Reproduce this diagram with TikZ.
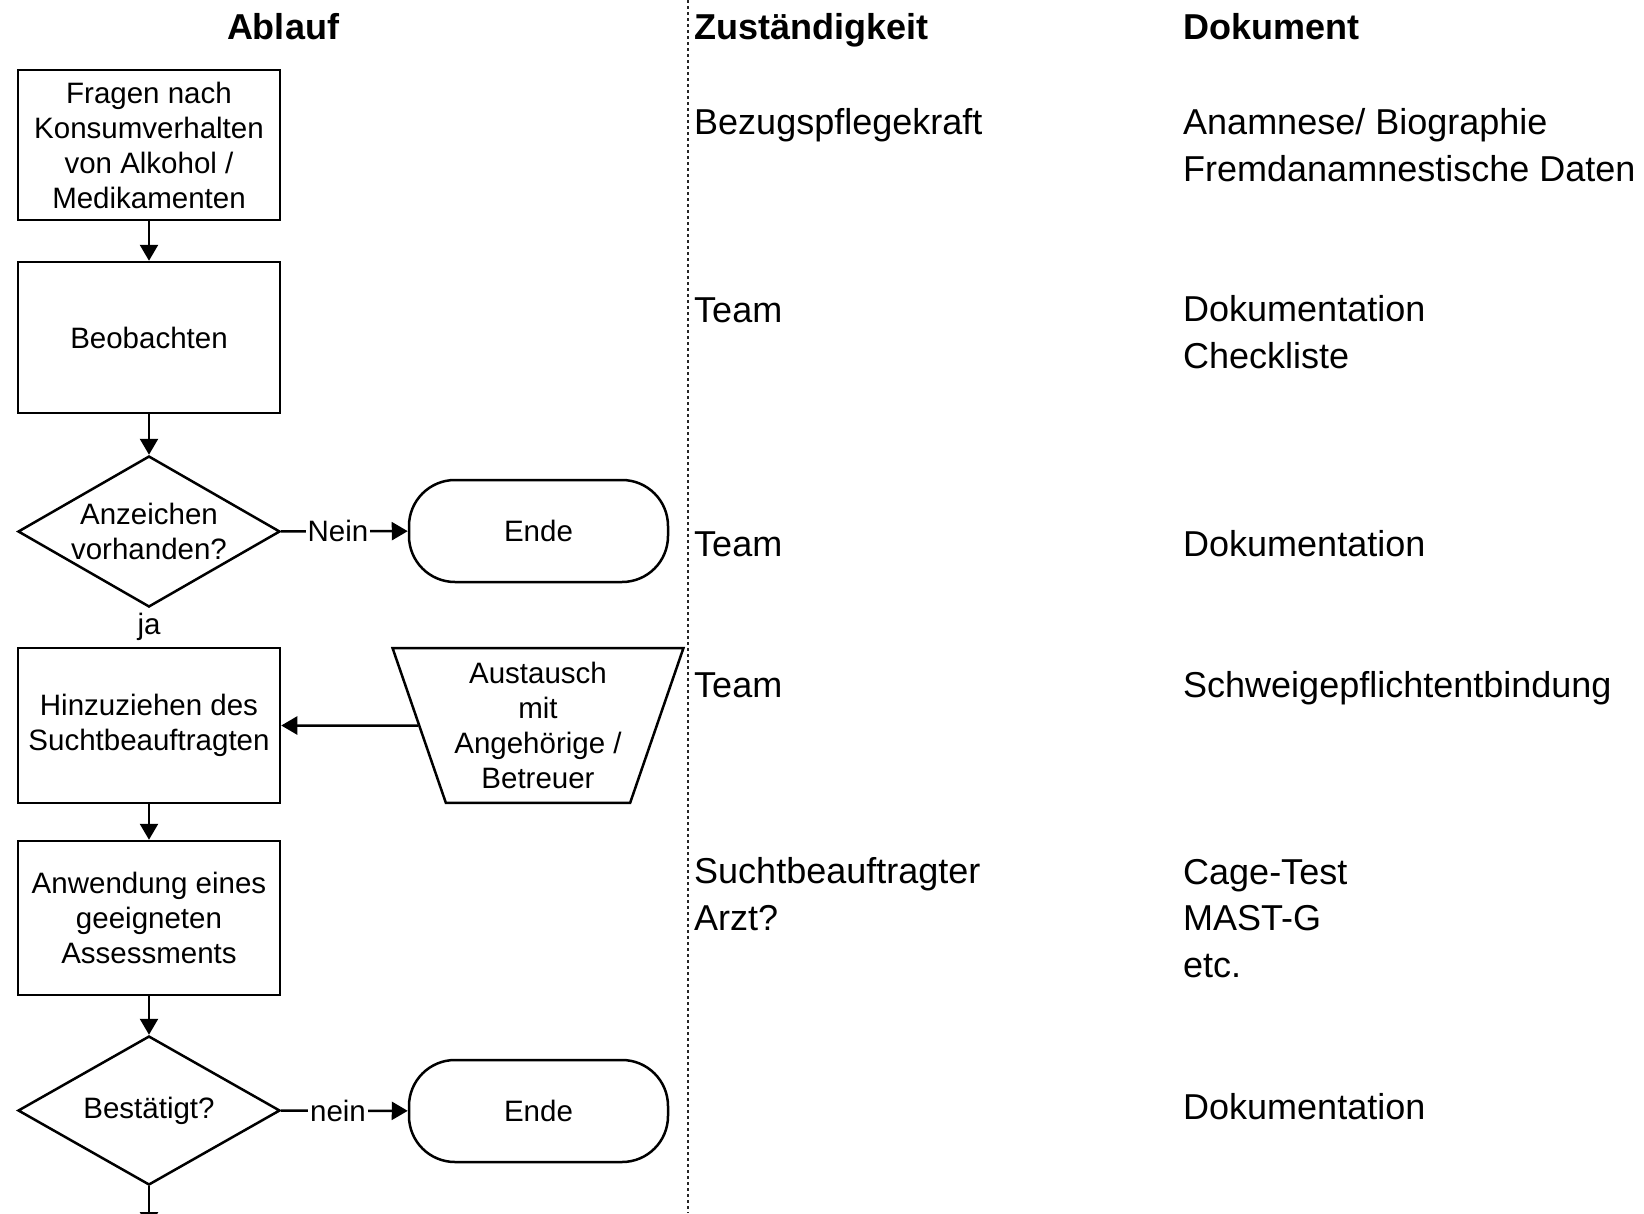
\documentclass[tikz,border=0pt]{standalone}
\usepackage{fontspec}
\setmainfont{Liberation Sans}
\usetikzlibrary{shapes.geometric, shapes.misc, arrows.meta}

\begin{document}
\begin{tikzpicture}[x=1pt, y=-1pt,
  flowbox/.style={draw, line width=2.5pt, rectangle, minimum width=262pt,
    align=center, inner sep=0pt, font=\fontsize{29.5}{35}\selectfont},
  decision/.style={draw, line width=2.5pt, diamond, aspect=1.735,
    minimum width=262pt, minimum height=151pt, inner sep=0pt,
    align=center, font=\fontsize{29.5}{35}\selectfont},
  endbox/.style={draw, line width=2.5pt, rectangle, rounded corners=46pt,
    minimum width=259pt, minimum height=102pt,
    font=\fontsize{29.5}{35}\selectfont},
  trapez/.style={draw, line width=2.5pt, trapezium, trapezium left angle=71,
    trapezium right angle=71, shape border rotate=180,
    inner xsep=8.5pt, inner ysep=14pt, align=center,
    font=\fontsize{29.5}{35}\selectfont},
  flow/.style={line width=2.5pt, -{Triangle[length=16pt, width=18pt]}},
  lbl/.style={fill=white, inner sep=2pt, font=\fontsize{29.5}{35}\selectfont},
  head/.style={anchor=base west, inner sep=0pt, font=\fontsize{36}{46.5}\selectfont\bfseries},
  cell/.style={anchor=base west, inner sep=0pt, align=left,
    font=\fontsize{36}{46.5}\selectfont},
  divider/.style={line width=2pt, black!85, dash pattern=on 3pt off 3pt}]

\useasboundingbox (0,0) rectangle (1644,1213);

% column heads
\node[head, anchor=base] (hAblauf) at (283,39) {Ablauf};
\node[head] (hZust) at (694,39) {Zuständigkeit};
\node[head] (hDok) at (1183,39) {Dokument};

% dotted column divider
\coordinate (divtop) at (688,0);
\coordinate (divbot) at (688,1213);
\draw[divider] (divtop) -- (divbot);

% flow chart
\node[flowbox, minimum height=150pt] (fragen) at (149,145) {Fragen nach\\Konsumverhalten\\von Alkohol /\\Medikamenten};
\node[flowbox, minimum height=151pt] (beob) at (149,337.5) {Beobachten};
\node[decision, label={[lbl, inner sep=5pt]below:ja}] (anz) at (149,531.5) {Anzeichen\\vorhanden?};
\node[endbox] (ende1) at (538.5,531) {Ende};
\node[flowbox, minimum height=155pt] (hinzu) at (149,725.5) {Hinzuziehen des\\Suchtbeauftragten};
\node[trapez] (austausch) at (538,725.5) {Austausch\\mit\\Angehörige /\\Betreuer};
\node[flowbox, minimum height=154pt] (assess) at (149,918) {Anwendung eines\\geeigneten\\Assessments};
\node[decision, minimum height=149pt] (best) at (149,1110.5) {Bestätigt?};
\node[endbox] (ende2) at (538.5,1111) {Ende};
\coordinate (weiter) at (149,1228);

\draw[flow] (fragen) -- (beob);
\draw[flow] (beob) -- (anz);
\draw[flow] (anz) -- node[lbl, pos=0.45] {Nein} (ende1);
\draw[flow] (austausch) -- (hinzu);
\draw[flow] (hinzu) -- (assess);
\draw[flow] (assess) -- (best);
\draw[flow] (best) -- node[lbl, pos=0.45] {nein} (ende2);
\draw[flow] (best) -- (weiter);

% responsibility (base = last line)
\node[cell] (z1) at (694,134) {Bezugspflegekraft};
\node[cell] (z2) at (694,322) {Team};
\node[cell] (z3) at (694,556) {Team};
\node[cell] (z4) at (694,697) {Team};
\node[cell] (z5) at (694,930) {Suchtbeauftragter\\Arzt?};

% documents
\node[cell] (d1) at (1183,181) {Anamnese/ Biographie\\Fremdanamnestische Daten};
\node[cell] (d2) at (1183,368) {Dokumentation\\Checkliste};
\node[cell] (d3) at (1183,556) {Dokumentation};
\node[cell] (d4) at (1183,697) {Schweigepflichtentbindung};
\node[cell] (d5) at (1183,977) {Cage-Test\\MAST-G\\etc.};
\node[cell] (d6) at (1183,1119) {Dokumentation};

\end{tikzpicture}
\end{document}
